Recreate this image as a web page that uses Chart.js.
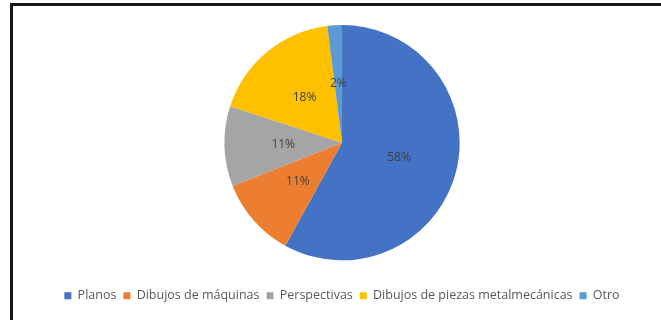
<!DOCTYPE html>
<html>
<head>
<meta charset="utf-8">
<script src="https://cdn.jsdelivr.net/npm/chart.js@4.4.1/dist/chart.umd.min.js"></script>
<style>
  html, body { margin: 0; padding: 0; background: #fff; }
  #frame {
    position: absolute; left: 10px; top: 3px;
    width: 648px; height: 320px;
    border-left: 3px solid #161616; border-top: 3px solid #161616;
  }
  #wrap { position: absolute; left: 0; top: 0; width: 648px; height: 314px; }
</style>
</head>
<body>
<div id="frame"><div id="wrap"><canvas id="chart"></canvas></div></div>
<script>
const categorias = ['Planos', 'Dibujos de máquinas', 'Perspectivas', 'Dibujos de piezas metalmecánicas', 'Otro']
const porcentajes = [58, 11, 11, 18, 2]
const colores = ['#4472C4', '#ED7D31', '#A5A5A5', '#FFC000', '#5B9BD5']

// etiquetas de porcentaje en el centro de cada sector
const etiquetas = {
  id: 'etiquetas',
  afterDatasetsDraw(chart) {
    const ctx = chart.ctx
    const meta = chart.getDatasetMeta(0)
    ctx.save()
    ctx.font = '12px "Open Sans", sans-serif'
    ctx.fillStyle = '#404040'
    ctx.textAlign = 'center'
    ctx.textBaseline = 'middle'
    meta.data.forEach((arc, i) => {
      const pos = arc.tooltipPosition()
      ctx.fillText(porcentajes[i] + '%', pos.x, pos.y)
    })
    ctx.restore()
  }
}

const data = {
  labels: categorias,
  datasets: [
    {
      data: porcentajes,
      backgroundColor: colores,
      borderWidth: 0,
    },
  ]
}

const chart_config = {
  type: 'pie',
  data: data,
  options: {
    responsive: true,
    maintainAspectRatio: false,
    animation: false,
    layout: { padding: { top: 19, left: 10, right: 0, bottom: 8 } },
    plugins: {
      legend: {
        position: 'bottom',
        // titulo vacio: solo deja aire entre la torta y la leyenda
        title: { display: true, text: '', font: { size: 1 }, padding: { top: 21, bottom: 0 } },
        labels: {
          boxWidth: 7,
          boxHeight: 7,
          padding: 7,
          color: '#595959',
          font: { size: 12.5, family: '"Open Sans", sans-serif' }
        }
      },
      tooltip: { enabled: false }
    }
  },
  plugins: [etiquetas]
}

const grafico = new Chart(
  document.getElementById('chart'),
  chart_config,
)
</script>
</body>
</html>
